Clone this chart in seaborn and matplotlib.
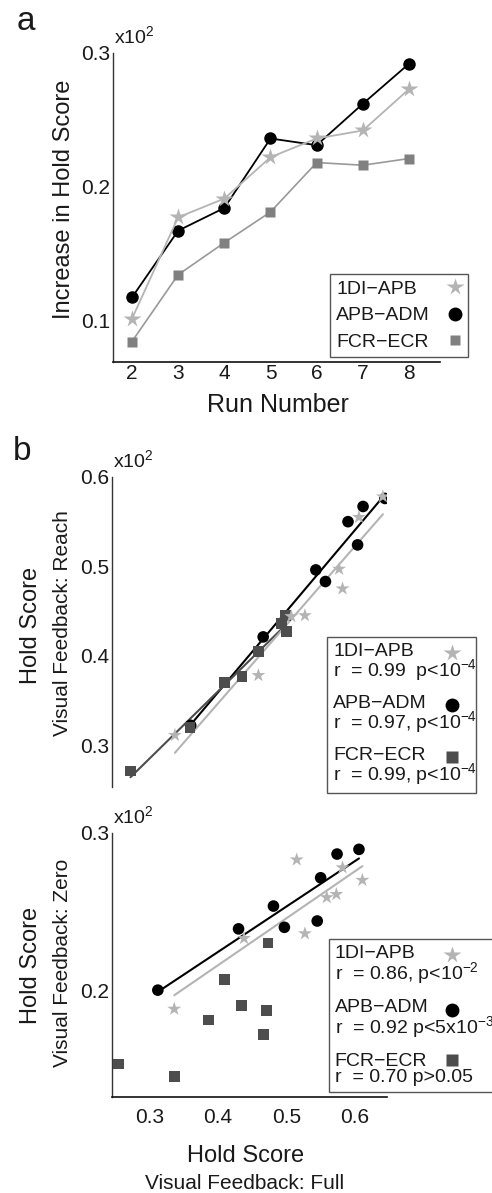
import numpy as np
import pandas as pd
import matplotlib
matplotlib.use("Agg")
import matplotlib.pyplot as plt
import seaborn as sns
from matplotlib.lines import Line2D
from matplotlib.legend_handler import HandlerLine2D

# ---------------- data ----------------
runs = [2, 3, 4, 5, 6, 7, 8]
run_labels = ["2", "3", "4", "5", "6", "7", "8"]
inc_1di_apb = [0.101, 0.177, 0.191, 0.222, 0.236, 0.242, 0.273]
inc_apb_adm = [0.117, 0.167, 0.184, 0.236, 0.231, 0.262, 0.292]
inc_fcr_ecr = [0.084, 0.134, 0.158, 0.181, 0.218, 0.216, 0.221]

# Visual feedback: Full (x) vs Reach (y)
full_1di_r = [0.337, 0.459, 0.507, 0.527, 0.577, 0.582, 0.606, 0.641]
reach_1di = [0.311, 0.378, 0.444, 0.445, 0.497, 0.475, 0.555, 0.578]
full_adm_r = [0.360, 0.466, 0.543, 0.557, 0.590, 0.604, 0.612, 0.644]
reach_adm = [0.322, 0.421, 0.496, 0.483, 0.550, 0.524, 0.567, 0.576]
full_fcr_r = [0.272, 0.359, 0.410, 0.435, 0.459, 0.493, 0.499, 0.500]
reach_fcr = [0.271, 0.320, 0.370, 0.377, 0.405, 0.436, 0.445, 0.427]

# Visual feedback: Full (x) vs Zero (y)
full_1di_z = [0.336, 0.438, 0.515, 0.527, 0.559, 0.573, 0.582, 0.611]
zero_1di = [0.188, 0.233, 0.283, 0.236, 0.259, 0.261, 0.278, 0.270]
full_adm_z = [0.312, 0.430, 0.481, 0.497, 0.550, 0.545, 0.574, 0.606]
zero_adm = [0.200, 0.239, 0.2535, 0.240, 0.2715, 0.244, 0.2866, 0.2896]
full_fcr_z = [0.254, 0.336, 0.386, 0.410, 0.434, 0.467, 0.471, 0.473]
zero_fcr = [0.153, 0.145, 0.181, 0.207, 0.190, 0.172, 0.187, 0.230]

pairs = ["1DI\u2212APB", "APB\u2212ADM", "FCR\u2212ECR"]
stats_reach = ["r  = 0.99  p<10$^{-4}$", "r  = 0.97, p<10$^{-4}$", "r  = 0.99, p<10$^{-4}$"]
stats_zero = ["r  = 0.86, p<10$^{-2}$", "r  = 0.92 p<5x10$^{-3}$", "r  = 0.70 p>0.05"]

a_yticks = [0.1, 0.2, 0.3]
a_yticklabels = ["0.1", "0.2", "0.3"]
b1_yticks = [0.3, 0.4, 0.5, 0.6]
b1_yticklabels = ["0.3", "0.4", "0.5", "0.6"]
b2_yticks = [0.2, 0.3]
b2_yticklabels = ["0.2", "0.3"]
b_xticks = [0.3, 0.4, 0.5, 0.6]
b_xticklabels = ["0.3", "0.4", "0.5", "0.6"]

# ---------------- style ----------------
sns.set_style("white")
plt.rcParams["font.family"] = ["Liberation Sans", "DejaVu Sans"]
plt.rcParams["mathtext.default"] = "regular"
TXT = "#1a1a1a"
plt.rcParams["text.color"] = TXT
plt.rcParams["xtick.color"] = TXT
plt.rcParams["ytick.color"] = TXT

C_STAR = "#b4b4b4"
C_CIRC = "#000000"
C_SQA = "#808080"
C_SQB = "#4d4d4d"

W, H = 492, 1193
fig = plt.figure(figsize=(W / 100, H / 100), dpi=100)

axA = fig.add_axes([113 / W, 1 - 362 / H, 327 / W, 309 / H])
axB1 = fig.add_axes([112 / W, 1 - 787 / H, 275 / W, 310 / H])
axB2 = fig.add_axes([112 / W, 1 - 1097 / H, 275 / W, 264 / H])


class ShiftHandler(HandlerLine2D):
    """Legend marker moved to the right edge (and optionally up) of the entry."""

    def __init__(self, dx=0.0, dy=0.0, **kw):
        super().__init__(**kw)
        self.dx = dx
        self.dy = dy

    def create_artists(self, legend, orig_handle, xdescent, ydescent,
                       width, height, fontsize, trans):
        arts = super().create_artists(legend, orig_handle, xdescent, ydescent,
                                      width, height, fontsize, trans)
        for a in arts:
            a.set_xdata(np.asarray(a.get_xdata(), dtype=float) + self.dx * fontsize)
            a.set_ydata(np.asarray(a.get_ydata(), dtype=float) + self.dy * fontsize)
        return arts


def style_axis(ax, bottom=True):
    sns.despine(ax=ax, top=True, right=True, bottom=not bottom)
    ax.spines["left"].set_color("#333333")
    ax.spines["left"].set_linewidth(1.0)
    if bottom:
        ax.spines["bottom"].set_color("#111111")
        ax.spines["bottom"].set_linewidth(1.2)
    ax.tick_params(length=0, labelsize=15)
    ax.grid(False)
    ax.set_xlabel("")
    ax.set_ylabel("")


def make_legend(ax, handles, labels, left_px, top_px, width_px, dx, dy,
                labelspacing, borderpad, linespacing=None):
    hm = {h: ShiftHandler(dx=dx, dy=dy) for h in handles}
    leg = ax.legend(handles, labels, loc="upper left",
                    bbox_to_anchor=(left_px / W, 1 - top_px / H, width_px / W, 0),
                    bbox_transform=fig.transFigure, mode="expand", borderaxespad=0,
                    fontsize=14, markerfirst=True, handlelength=0, handletextpad=0,
                    labelspacing=labelspacing, borderpad=borderpad, fancybox=False,
                    framealpha=1, edgecolor="#555555", handler_map=hm)
    leg.get_frame().set_linewidth(1.0)
    if linespacing is not None:
        for t in leg.get_texts():
            t.set_linespacing(linespacing)
            t.set_multialignment("left")
    return leg


# ---------------- panel a ----------------
sns.lineplot(x=runs, y=inc_fcr_ecr, ax=axA, color="#999999", lw=1.2, marker="s",
             markersize=7.5, markerfacecolor=C_SQA, markeredgecolor="none", zorder=2)
sns.lineplot(x=runs, y=inc_apb_adm, ax=axA, color=C_CIRC, lw=1.3, marker="o",
             markersize=9, markerfacecolor=C_CIRC, markeredgecolor="none", zorder=3)
sns.lineplot(x=runs, y=inc_1di_apb, ax=axA, color=C_STAR, lw=1.3, marker="*",
             markersize=13, markerfacecolor=C_STAR, markeredgecolor="none", zorder=4)
axA.set_xlim(1.59, 8.67)
axA.set_ylim(0.0687, 0.3)
axA.set_xticks(runs)
axA.set_xticklabels(run_labels)
axA.set_yticks(a_yticks)
axA.set_yticklabels(a_yticklabels)
style_axis(axA)
axA.tick_params(axis="y", pad=2)
axA.tick_params(axis="x", pad=1.5)

hA = [Line2D([], [], ls="none", marker="*", markersize=13, color=C_STAR, markeredgecolor="none"),
      Line2D([], [], ls="none", marker="o", markersize=10, color=C_CIRC, markeredgecolor="none"),
      Line2D([], [], ls="none", marker="s", markersize=7.5, color=C_SQA, markeredgecolor="none")]
make_legend(axA, hA, pairs, 330, 274, 138, dx=6.1, dy=0.0,
            labelspacing=0.45, borderpad=0.33)

# ---------------- panel b (reach) ----------------
sns.regplot(x=full_adm_r, y=reach_adm, ax=axB1, scatter=False, ci=None, truncate=True,
            color=C_CIRC, line_kws=dict(lw=1.5, zorder=2))
sns.regplot(x=full_fcr_r, y=reach_fcr, ax=axB1, scatter=False, ci=None, truncate=True,
            color=C_SQB, line_kws=dict(lw=1.5, zorder=2))
sns.regplot(x=full_1di_r, y=reach_1di, ax=axB1, scatter=False, ci=None, truncate=True,
            color=C_STAR, line_kws=dict(lw=1.5, zorder=2))
sns.scatterplot(x=full_adm_r, y=reach_adm, ax=axB1, marker="o", s=70, color=C_CIRC,
                edgecolor="none", zorder=3)
sns.scatterplot(x=full_fcr_r, y=reach_fcr, ax=axB1, marker="s", s=60, color=C_SQB,
                edgecolor="none", zorder=4)
sns.scatterplot(x=full_1di_r, y=reach_1di, ax=axB1, marker="*", s=110, color=C_STAR,
                edgecolor="none", zorder=5)
axB1.set_xlim(0.245, 0.647)
axB1.set_ylim(0.253, 0.6)
axB1.set_yticks(b1_yticks)
axB1.set_yticklabels(b1_yticklabels)
axB1.set_xticks([])
style_axis(axB1, bottom=False)
axB1.tick_params(axis="y", pad=2)

# ---------------- panel b (zero) ----------------
sns.regplot(x=full_adm_z, y=zero_adm, ax=axB2, scatter=False, ci=None, truncate=True,
            color=C_CIRC, line_kws=dict(lw=1.5, zorder=2))
sns.regplot(x=full_1di_z, y=zero_1di, ax=axB2, scatter=False, ci=None, truncate=True,
            color=C_STAR, line_kws=dict(lw=1.5, zorder=2))
sns.scatterplot(x=full_adm_z, y=zero_adm, ax=axB2, marker="o", s=70, color=C_CIRC,
                edgecolor="none", zorder=3)
sns.scatterplot(x=full_fcr_z, y=zero_fcr, ax=axB2, marker="s", s=60, color=C_SQB,
                edgecolor="none", zorder=4)
sns.scatterplot(x=full_1di_z, y=zero_1di, ax=axB2, marker="*", s=110, color=C_STAR,
                edgecolor="none", zorder=5)
axB2.set_xlim(0.245, 0.647)
axB2.set_ylim(0.132, 0.3)
axB2.set_xticks(b_xticks)
axB2.set_xticklabels(b_xticklabels)
axB2.set_yticks(b2_yticks)
axB2.set_yticklabels(b2_yticklabels)
style_axis(axB2)
axB2.tick_params(axis="y", pad=2)
axB2.tick_params(axis="x", pad=8)


def b_handles():
    return [Line2D([], [], ls="none", marker="*", markersize=13, color=C_STAR, markeredgecolor="none"),
            Line2D([], [], ls="none", marker="o", markersize=10, color=C_CIRC, markeredgecolor="none"),
            Line2D([], [], ls="none", marker="s", markersize=8, color=C_SQB, markeredgecolor="none")]


make_legend(axB1, b_handles(), [p + "\n" + s for p, s in zip(pairs, stats_reach)],
            327, 637, 149, dx=6.12, dy=0.5, labelspacing=0.6, borderpad=0.32,
            linespacing=0.85)
make_legend(axB2, b_handles(), [p + "\n" + s for p, s in zip(pairs, stats_zero)],
            329, 939, 175, dx=6.0, dy=0.5, labelspacing=0.68, borderpad=0.3,
            linespacing=0.9)

# ---------------- texts ----------------
for ax in (axA, axB1, axB2):
    ax.annotate("x10$^2$", xy=(0, 1), xycoords="axes fraction", xytext=(1, 7),
                textcoords="offset points", ha="left", va="baseline", fontsize=14)

fig.text(17 / W, 1 - 30 / H, "a", fontsize=24, ha="left", va="baseline")
fig.text(13 / W, 1 - 460 / H, "b", fontsize=24, ha="left", va="baseline")

fig.text(70 / W, 1 - 199 / H, "Increase in Hold Score", fontsize=17, rotation=90,
         rotation_mode="anchor", ha="center", va="baseline")
fig.text(278 / W, 1 - 412 / H, "Run Number", fontsize=18, ha="center", va="baseline")

fig.text(37 / W, 1 - 625 / H, "Hold Score", fontsize=17, rotation=90,
         rotation_mode="anchor", ha="center", va="baseline")
fig.text(68 / W, 1 - 623 / H, "Visual Feedback: Reach", fontsize=15, rotation=90,
         rotation_mode="anchor", ha="center", va="baseline")

fig.text(37 / W, 1 - 965 / H, "Hold Score", fontsize=17, rotation=90,
         rotation_mode="anchor", ha="center", va="baseline")
fig.text(68 / W, 1 - 963 / H, "Visual Feedback: Zero", fontsize=15, rotation=90,
         rotation_mode="anchor", ha="center", va="baseline")

fig.text(246 / W, 1 - 1162 / H, "Hold Score", fontsize=17, ha="center", va="baseline")
fig.text(245 / W, 1 - 1189 / H, "Visual Feedback: Full", fontsize=15, ha="center", va="baseline")

fig.savefig("out.png", dpi=100)
